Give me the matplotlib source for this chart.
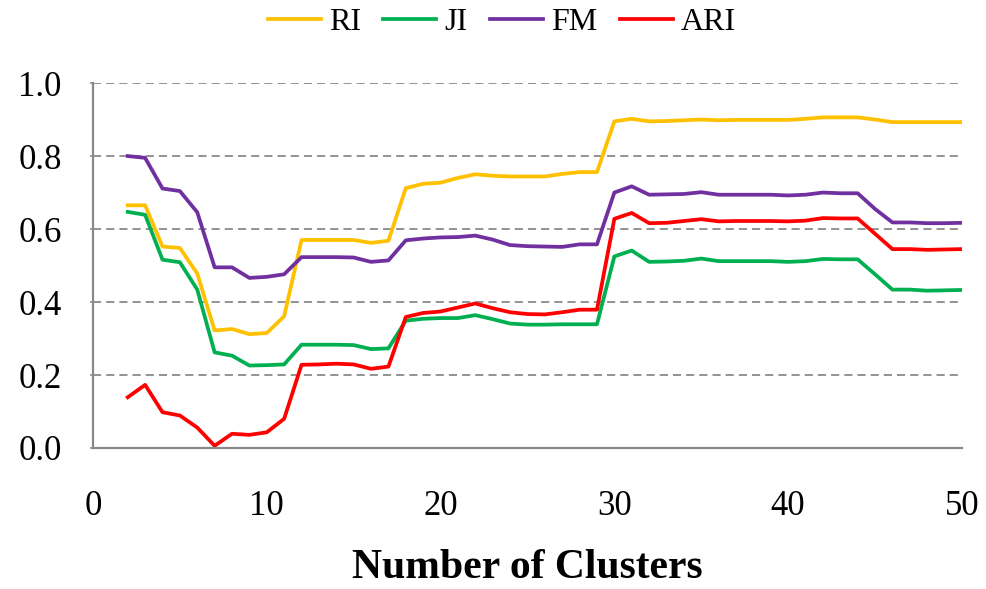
import matplotlib
matplotlib.use("Agg")
import matplotlib.pyplot as plt

clusters = list(range(2, 51))

ri = [0.665, 0.665, 0.552, 0.548, 0.478, 0.322, 0.326, 0.312, 0.315, 0.361,
      0.570, 0.570, 0.570, 0.570, 0.562, 0.568, 0.712, 0.724, 0.727, 0.740,
      0.750, 0.746, 0.744, 0.744, 0.744, 0.751, 0.756, 0.756, 0.895, 0.902,
      0.895, 0.896, 0.898, 0.900, 0.898, 0.899, 0.899, 0.899, 0.899, 0.902,
      0.906, 0.906, 0.906, 0.900, 0.893, 0.893, 0.893, 0.893, 0.893]

ji = [0.647, 0.639, 0.516, 0.509, 0.434, 0.262, 0.253, 0.226, 0.227, 0.229,
      0.283, 0.283, 0.283, 0.282, 0.271, 0.273, 0.349, 0.354, 0.356, 0.356,
      0.364, 0.353, 0.341, 0.338, 0.338, 0.339, 0.339, 0.339, 0.525, 0.541,
      0.510, 0.511, 0.513, 0.519, 0.512, 0.512, 0.512, 0.512, 0.510, 0.512,
      0.518, 0.517, 0.517, 0.476, 0.434, 0.434, 0.431, 0.432, 0.433]

fm = [0.800, 0.795, 0.711, 0.704, 0.646, 0.495, 0.495, 0.466, 0.469, 0.476,
      0.523, 0.523, 0.523, 0.522, 0.510, 0.514, 0.569, 0.574, 0.577, 0.578,
      0.582, 0.571, 0.556, 0.553, 0.552, 0.551, 0.558, 0.558, 0.700, 0.717,
      0.694, 0.695, 0.696, 0.701, 0.694, 0.694, 0.694, 0.694, 0.692, 0.694,
      0.700, 0.698, 0.698, 0.655, 0.618, 0.618, 0.616, 0.616, 0.617]

ari = [0.139, 0.173, 0.098, 0.089, 0.056, 0.006, 0.039, 0.036, 0.043, 0.080,
       0.228, 0.229, 0.231, 0.229, 0.217, 0.223, 0.359, 0.370, 0.374, 0.385,
       0.396, 0.383, 0.372, 0.367, 0.366, 0.372, 0.379, 0.379, 0.628, 0.644,
       0.616, 0.617, 0.622, 0.627, 0.621, 0.622, 0.622, 0.622, 0.621, 0.623,
       0.630, 0.629, 0.629, 0.587, 0.545, 0.545, 0.543, 0.544, 0.545]

plt.rcParams["font.family"] = "Liberation Serif"

fig = plt.figure(figsize=(9.86, 5.89), dpi=100)
ax = fig.add_axes([0.0943, 0.2394, 0.8813, 0.6196])

ax.plot(clusters, ri, color="#FFC000", lw=2.7, label="RI")
ax.plot(clusters, ji, color="#00B050", lw=2.7, label="JI")
ax.plot(clusters, fm, color="#7030A0", lw=2.7, label="FM")
ax.plot(clusters, ari, color="#FF0000", lw=2.7, label="ARI")

ax.set_xlim(0, 50)
ax.set_ylim(0, 1.0)
ax.set_xticks([0, 10, 20, 30, 40, 50])
ax.set_yticks([0.0, 0.2, 0.4, 0.6, 0.8, 1.0])
ax.set_yticklabels(["0.0", "0.2", "0.4", "0.6", "0.8", "1.0"])
ax.yaxis.grid(True, color="#8a8a8a", lw=1.3, linestyle=(0, (4.5, 2.8)))
ax.set_axisbelow(True)

for s in ["top", "right"]:
    ax.spines[s].set_visible(False)
for s in ["left", "bottom"]:
    ax.spines[s].set_color("#898989")
    ax.spines[s].set_linewidth(1.6)

ax.tick_params(axis="y", labelsize=25, length=2.5, width=1.1, color="#898989", pad=20)
ax.tick_params(axis="x", labelsize=25, length=0, pad=30)

ax.set_xlabel("Number of Clusters", fontsize=30, fontweight="bold", labelpad=19)

fig.legend(loc="center", bbox_to_anchor=(0.509, 0.962), ncol=4, frameon=False,
           fontsize=23, handlelength=1.66, handletextpad=0.25, columnspacing=0.7)

fig.savefig("out.png", dpi=100)
